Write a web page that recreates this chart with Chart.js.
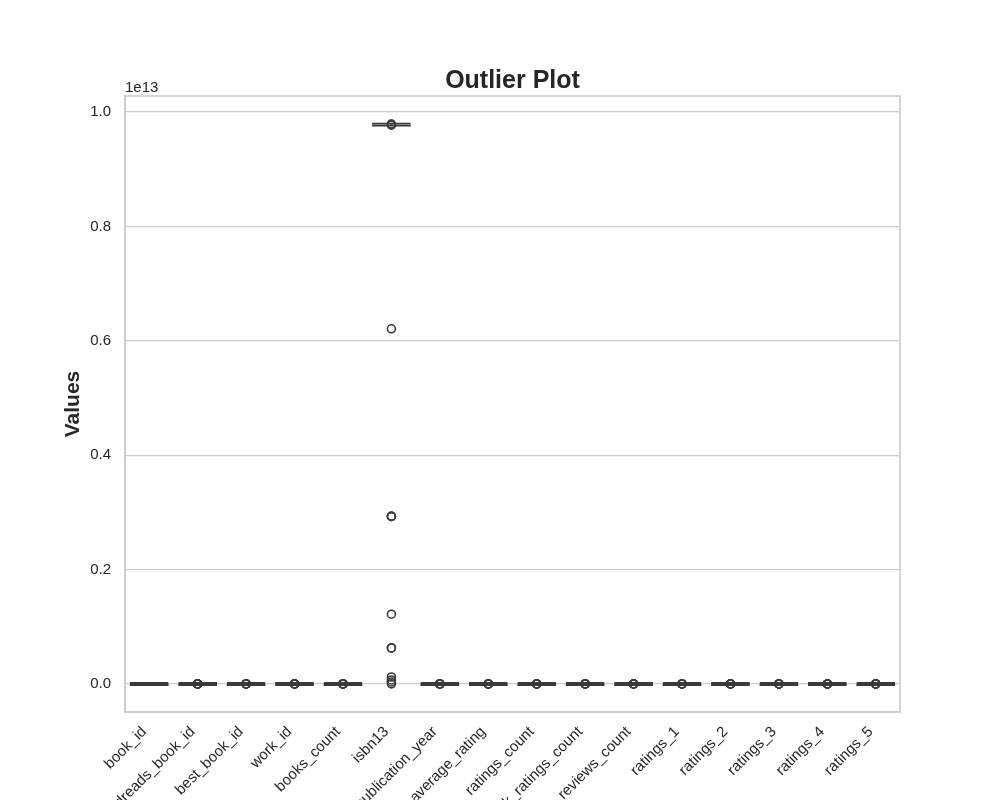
<!DOCTYPE html>
<html>
<head>
<meta charset="utf-8">
<script src="https://cdn.jsdelivr.net/npm/chart.js@4.4.1/dist/chart.umd.min.js"></script>
<style>
  html, body { margin: 0; padding: 0; background: #ffffff; }
  #wrap { width: 1000px; height: 800px; }
</style>
</head>
<body>
<div id="wrap"><canvas id="c" width="1000" height="800"></canvas></div>
<script>
// ---- Data (raw values; y axis shown in units of 1e13) ----
const categories = ['book_id', 'goodreads_book_id', 'best_book_id', 'work_id', 'books_count', 'isbn13',
  'original_publication_year', 'average_rating', 'ratings_count', 'work_ratings_count',
  'work_text_reviews_count', 'ratings_1', 'ratings_2', 'ratings_3', 'ratings_4', 'ratings_5'];

const q1Values = [2500.75, 46275.75, 47911.75, 1008841, 23, 9780316015840, 1990, 3.85, 13568.75, 15438.75,
  694, 196, 656, 3112, 4755, 5334];
const medianValues = [5000.5, 394965.5, 425123.5, 2719524.5, 40, 9780451528640, 2004, 4.02, 21155.5, 23832.5,
  1402, 391, 1163, 4894, 8269, 8836];
const q3Values = [7500.25, 9382225.25, 9636112.5, 14517748.25, 67, 9780830777175, 2011, 4.18, 41053.5, 45915,
  2744.25, 885, 2353.25, 9287, 16023.5, 17304.5];
const whiskerLowValues = [1, 1, 1, 87, 1, 9779540000000, 1959, 3.36, 2716, 5510, 3, 11, 30, 323, 750, 754];
const whiskerHighValues = [10000, 23384000, 24018000, 34750000, 133, 9781605000000, 2017, 4.67, 81249, 91608,
  5820, 1868, 4902, 18534, 32662, 35253];

const outlierValues = [
  [],
  [23400000, 25000000, 27000000, 29500000, 31300000, 33288638],
  [24100000, 26000000, 28900000, 32000000, 35534230],
  [35200000, 41000000, 46500000, 51700000, 56399597],
  [140, 200, 350, 650, 1200, 3455],
  [9790000000000, 9785000000000, 9771000000000, 6210000000000, 2930000000000, 2930500000000, 2931000000000,
   1220000000000, 630000000000, 630400000000, 122000000000, 70000000000, 35000000000, 2000000000],
  [1950, 1900, 1800, 1600, -500, -1750],
  [2.47, 3.2, 3.3, 4.7, 4.82],
  [82000, 150000, 500000, 1500000, 4780653],
  [92000, 200000, 600000, 1800000, 4942365],
  [5900, 12000, 30000, 80000, 155254],
  [1900, 5000, 20000, 100000, 456191],
  [4950, 10000, 40000, 150000, 436802],
  [18600, 40000, 100000, 400000, 793319],
  [32700, 70000, 200000, 700000, 1481305],
  [35300, 80000, 300000, 1000000, 3011543]
];

const yTickValues = [0, 2e12, 4e12, 6e12, 8e12, 1e13];
const yMin = -0.049e13;
const yMax = 1.028e13;

// ---- Build datasets ----
const lineColor = '#3a3a3a';
const gridColor = '#cccccc';
const textColor = '#262626';
const fontFamily = '"Liberation Sans", Arial, "DejaVu Sans", sans-serif';

const outlierPoints = [];
outlierValues.forEach((arr, i) => arr.forEach(v => outlierPoints.push({ x: categories[i], y: v })));

const boxData = categories.map((c, i) => [q1Values[i], q3Values[i]]);
const medianData = categories.map((c, i) => [medianValues[i], medianValues[i]]);
const whiskerData = categories.map((c, i) => [whiskerLowValues[i], whiskerHighValues[i]]);

const frameBorder = {
  id: 'frameBorder',
  beforeDatasetsDraw(chart) {
    const { ctx, chartArea: a } = chart;
    ctx.save();
    ctx.strokeStyle = gridColor;
    ctx.lineWidth = 1.6;
    ctx.strokeRect(a.left, a.top, a.right - a.left, a.bottom - a.top);
    ctx.restore();
  },
  afterDraw(chart) {
    const { ctx, chartArea: a } = chart;
    ctx.save();
    ctx.fillStyle = textColor;
    ctx.font = '15px ' + fontFamily;
    ctx.textAlign = 'left';
    ctx.textBaseline = 'middle';
    ctx.fillText('1e13', a.left, 88);
    ctx.restore();
  }
};

new Chart(document.getElementById('c'), {
  type: 'bar',
  data: {
    labels: categories,
    datasets: [
      {
        type: 'scatter',
        label: 'outliers',
        data: outlierPoints,
        pointRadius: 4,
        pointHoverRadius: 4,
        pointBorderWidth: 1.6,
        borderColor: lineColor,
        backgroundColor: 'rgba(0,0,0,0)',
        order: 0
      },
      {
        label: 'median',
        data: medianData,
        backgroundColor: lineColor,
        borderWidth: 0,
        minBarLength: 2,
        barPercentage: 0.8,
        categoryPercentage: 1,
        grouped: false,
        order: 1
      },
      {
        label: 'box',
        data: boxData,
        backgroundColor: '#5975a4',
        borderColor: lineColor,
        borderWidth: 1.5,
        borderSkipped: false,
        minBarLength: 2,
        barPercentage: 0.8,
        categoryPercentage: 1,
        grouped: false,
        order: 2
      },
      {
        label: 'whisker',
        data: whiskerData,
        backgroundColor: lineColor,
        borderWidth: 0,
        barThickness: 1.5,
        grouped: false,
        order: 3
      }
    ]
  },
  options: {
    responsive: false,
    animation: false,
    devicePixelRatio: 1,
    layout: { padding: { top: 66, right: 100, left: 0, bottom: 0 } },
    plugins: {
      legend: { display: false },
      tooltip: { enabled: false },
      title: {
        display: true,
        text: 'Outlier Plot',
        fullSize: false,
        color: textColor,
        font: { family: fontFamily, size: 25, weight: 'bold', lineHeight: 1.2 },
        padding: { top: 0, bottom: 0 }
      }
    },
    scales: {
      x: {
        type: 'category',
        labels: categories,
        offset: true,
        grid: { display: false, drawTicks: false },
        border: { display: true, color: gridColor, width: 1.6 },
        ticks: {
          autoSkip: false,
          minRotation: 45,
          maxRotation: 45,
          padding: 11,
          labelOffset: -5,
          color: textColor,
          font: { family: fontFamily, size: 15 }
        },
        afterFit(scale) { scale.height = 88; }
      },
      y: {
        type: 'linear',
        min: yMin,
        max: yMax,
        grid: { color: gridColor, lineWidth: 1.3, drawTicks: false },
        border: { display: true, color: gridColor, width: 1.6 },
        ticks: {
          padding: 14,
          color: textColor,
          font: { family: fontFamily, size: 15 },
          callback: v => (v / 1e13).toFixed(1)
        },
        afterBuildTicks(scale) { scale.ticks = yTickValues.map(v => ({ value: v })); },
        title: {
          display: true,
          text: 'Values',
          color: textColor,
          font: { family: fontFamily, size: 21, weight: 'bold', lineHeight: 1.2 },
          padding: { top: 61, bottom: 0 }
        },
        afterFit(scale) { scale.width = 125; }
      }
    }
  },
  plugins: [frameBorder]
});
</script>
</body>
</html>
